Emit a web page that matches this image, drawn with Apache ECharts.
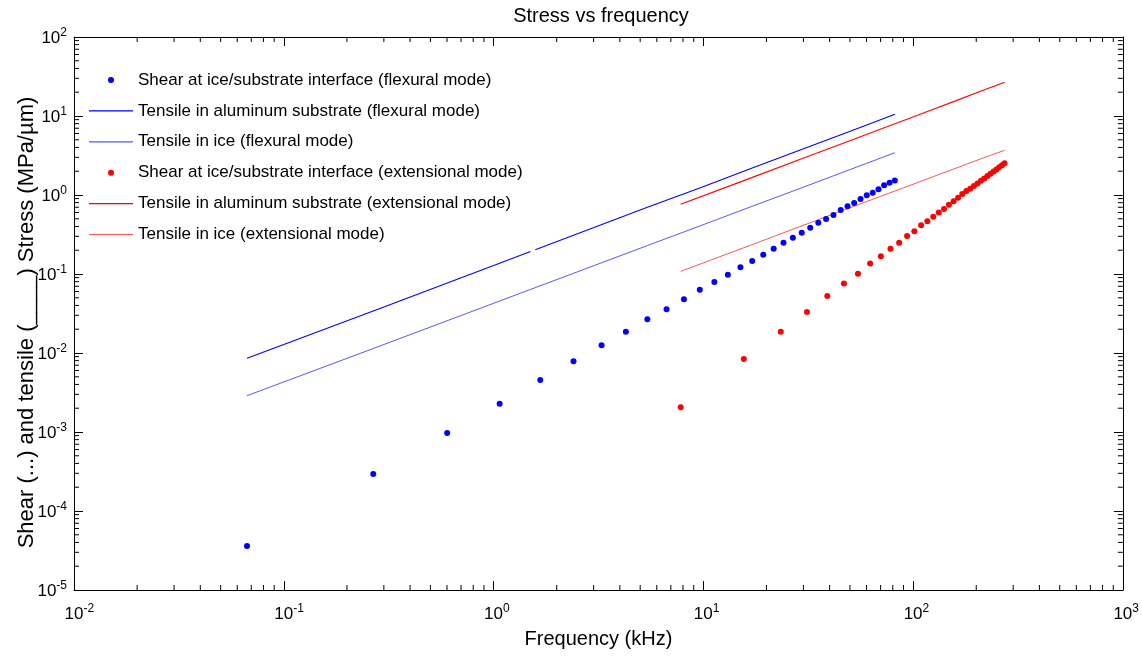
<!DOCTYPE html>
<html>
<head>
<meta charset="utf-8">
<script src="https://cdn.jsdelivr.net/npm/echarts@6/dist/echarts.min.js"></script>
<style>
html,body{margin:0;padding:0;background:#fff;}
#chart{width:1142px;height:658px;}
</style>
</head>
<body>
<div id="chart"></div>
<script>
// ---- data ----
const flexFreq = [0.0668,0.267,0.601,1.069,1.67,2.405,3.273,4.275,5.411,6.68,8.083,9.619,11.29,13.09,15.03,17.10,19.31,21.64,24.11,26.72,29.46,32.33,35.34,38.48,41.75,45.16,48.70,52.37,56.18,60.12,64.19,68.40,72.75,77.22,81.83];
const flexShear = [3.61e-5,2.94e-4,9.7e-4,2.28e-3,4.55e-3,7.85e-3,1.25e-2,1.86e-2,2.67e-2,3.57e-2,4.79e-2,6.33e-2,7.92e-2,0.098,0.1216,0.146,0.175,0.209,0.249,0.288,0.333,0.386,0.446,0.497,0.558,0.646,0.719,0.792,0.889,0.991,1.07,1.18,1.33,1.43,1.53];

// aluminium line has a small break near 1.5 kHz (null = gap)
const flexAlFreq = [0.0668,0.267,1.069,1.50,1.54,1.58,2.405,5.411,9.619,17.10,26.72,41.75,60.12,81.83];
const flexTensileAl = [0.0086,0.034,0.137,0.193,null,0.203,0.31,0.70,1.23,2.2,3.43,5.35,7.7,10.5];
const flexIceFreq = [0.0668,0.267,1.069,2.405,5.411,9.619,17.10,26.72,41.75,60.12,81.83];
const flexTensileIce = [0.00288,0.0114,0.0455,0.102,0.229,0.405,0.72,1.12,1.75,2.52,3.43];

const extFreq = [7.8,15.6,23.4,31.2,39,46.8,54.6,62.4,70.2,78,85.8,93.6,101.4,109.2,117,124.8,132.6,140.4,148.2,156,163.8,171.6,179.4,187.2,195,202.8,210.6,218.4,226.2,234,241.8,249.6,257.4,265.2,273];
const extShear = [2.06e-3,8.4e-3,1.86e-2,3.30e-2,5.27e-2,7.58e-2,0.101,0.136,0.168,0.208,0.249,0.303,0.347,0.413,0.466,0.531,0.600,0.665,0.755,0.832,0.922,1.03,1.12,1.20,1.30,1.40,1.51,1.62,1.74,1.86,1.98,2.11,2.24,2.38,2.52];

const extLineFreq = [7.8,15.6,31.2,46.8,70.2,93.6,124.8,156,195,234,273];
const extTensileAl = [0.762,1.52,3.04,4.55,6.85,9.1,12.2,15.2,19.1,22.9,26.7];
const extTensileIce = [0.108,0.215,0.43,0.645,0.965,1.28,1.71,2.13,2.66,3.18,3.68];

const seriesNames = [
  'Shear at ice/substrate interface (flexural mode)',
  'Tensile in aluminum substrate (flexural mode)',
  'Tensile in ice (flexural mode)',
  'Shear at ice/substrate interface (extensional mode)',
  'Tensile in aluminum substrate (extensional mode)',
  'Tensile in ice (extensional mode)'
];

const xMin = 0.01, xMax = 1000, yMin = 1e-5, yMax = 100;
const xMinorTicks = [];
[0.01,0.1,1,10,100].forEach(d => { [2,3,4,5,6,7,8,9].forEach(k => xMinorTicks.push(+(d*k).toPrecision(3))); });
const yMinorTicks = [];
[1e-5,1e-4,1e-3,1e-2,1e-1,1,10].forEach(d => { [2,3,4,5,6,7,8,9].forEach(k => yMinorTicks.push(+(d*k).toPrecision(3))); });

const zip = (a, b) => a.map((v, i) => [v, b[i] === null ? '-' : b[i]]);
const FONT = '"Liberation Sans", Arial, Helvetica, sans-serif';
const LINE_ICON = 'path://M0,0 L44,0 L44,1.2 L0,1.2 Z';

function expOf(v){ return Math.round(Math.log10(v)); }
const richLabel = {
  h: {fontSize: 12, color: 'rgba(0,0,0,0)', fontFamily: FONT, lineHeight: 13, padding: [0,0,9,0], verticalAlign: 'top'},
  b: {fontSize: 17, color: '#000', fontFamily: FONT, lineHeight: 20, verticalAlign: 'bottom'},
  s: {fontSize: 12, color: '#000', fontFamily: FONT, lineHeight: 13, padding: [0,0,9,0], verticalAlign: 'top'}
};

const chart = echarts.init(document.getElementById('chart'), null, {renderer: 'canvas'});

const axisCommon = {
  type: 'log', logBase: 10,
  axisLine: {show: true, onZero: false, lineStyle: {color: '#000', width: 1}},
  axisTick: {show: true, inside: true, length: 9, lineStyle: {color: '#000', width: 1}},
  splitLine: {show: false},
  minorTick: {show: false}
};

const option = {
  animation: false,
  backgroundColor: '#fff',
  title: {
    text: 'Stress vs frequency', left: 601, top: 6, textAlign: 'center', padding: 0,
    textStyle: {fontSize: 20, fontWeight: 'normal', color: '#000', fontFamily: FONT}
  },
  grid: {left: 74, right: 14, top: 37, bottom: 68, containLabel: false},
  legend: {
    orient: 'vertical', left: 89, top: 70, padding: 0,
    itemWidth: 44, itemHeight: 6, itemGap: 10.9,
    textStyle: {fontSize: 17, color: '#000', fontFamily: FONT, lineHeight: 20},
    data: [
      {name: seriesNames[0], icon: 'circle'},
      {name: seriesNames[1], icon: LINE_ICON},
      {name: seriesNames[2], icon: LINE_ICON},
      {name: seriesNames[3], icon: 'circle'},
      {name: seriesNames[4], icon: LINE_ICON},
      {name: seriesNames[5], icon: LINE_ICON}
    ],
    selectedMode: false
  },
  xAxis: [
    Object.assign({}, axisCommon, {
      min: xMin, max: xMax, position: 'bottom',
      name: 'Frequency (kHz)', nameLocation: 'middle', nameGap: 39, nameMoveOverlap: false,
      nameTextStyle: {fontSize: 20, color: '#000', fontFamily: FONT, verticalAlign: 'top'},
      axisLabel: {
        margin: 13, formatter: v => { const e = expOf(v); return '{h|' + e + '}{b|10}{s|' + e + '}'; },
        rich: richLabel
      }
    }),
    Object.assign({}, axisCommon, {
      min: xMin, max: xMax, position: 'top', axisLabel: {show: false}
    })
  ],
  yAxis: [
    Object.assign({}, axisCommon, {
      min: yMin, max: yMax, position: 'left',
      name: 'Shear (...) and tensile (____) Stress (MPa/µm)', nameLocation: 'middle', nameGap: 36, nameMoveOverlap: false,
      nameTextStyle: {fontSize: 22, color: '#000', fontFamily: FONT, padding: [0, 18, 0, 0]},
      axisLabel: {
        margin: 7, formatter: v => { const e = expOf(v); return '{b|10}{s|' + e + '}'; },
        rich: richLabel
      }
    }),
    Object.assign({}, axisCommon, {
      min: yMin, max: yMax, position: 'right', axisLabel: {show: false}
    })
  ],
  series: [
    {
      name: seriesNames[0], type: 'scatter', data: zip(flexFreq, flexShear),
      symbol: 'circle', symbolSize: 6, itemStyle: {color: '#0000ff', opacity: 1}, z: 3
    },
    {
      name: seriesNames[1], type: 'line', data: zip(flexAlFreq, flexTensileAl), connectNulls: false,
      symbol: 'none', lineStyle: {color: '#0000ff', width: 1.1}, itemStyle: {color: '#0000ff'}, z: 2
    },
    {
      name: seriesNames[2], type: 'line', data: zip(flexIceFreq, flexTensileIce),
      symbol: 'none', lineStyle: {color: '#5555ff', width: 1}, itemStyle: {color: '#5555ff'}, z: 2
    },
    {
      name: seriesNames[3], type: 'scatter', data: zip(extFreq, extShear),
      symbol: 'circle', symbolSize: 6, itemStyle: {color: '#ff0000', opacity: 1}, z: 3
    },
    {
      name: seriesNames[4], type: 'line', data: zip(extLineFreq, extTensileAl),
      symbol: 'none', lineStyle: {color: '#ff0000', width: 1.1}, itemStyle: {color: '#ff0000'}, z: 2
    },
    {
      name: seriesNames[5], type: 'line', data: zip(extLineFreq, extTensileIce),
      symbol: 'none', lineStyle: {color: '#ff5555', width: 1}, itemStyle: {color: '#ff5555'}, z: 2
    },
    {
      type: 'custom', silent: true, z: 5,
      data: xMinorTicks.map(v => [v, 1]),
      renderItem: (params, api) => {
        const v = api.value(0);
        const b = api.coord([v, yMin]);
        const t = api.coord([v, yMax]);
        const st = {stroke: '#000', lineWidth: 1};
        return {type: 'group', children: [
          {type: 'line', shape: {x1: b[0], y1: b[1], x2: b[0], y2: b[1] - 5}, style: st},
          {type: 'line', shape: {x1: t[0], y1: t[1], x2: t[0], y2: t[1] + 5}, style: st}
        ]};
      }
    },
    {
      type: 'custom', silent: true, z: 5,
      data: yMinorTicks.map(v => [1, v]),
      renderItem: (params, api) => {
        const v = api.value(1);
        const l = api.coord([xMin, v]);
        const r = api.coord([xMax, v]);
        const st = {stroke: '#000', lineWidth: 1};
        return {type: 'group', children: [
          {type: 'line', shape: {x1: l[0], y1: l[1], x2: l[0] + 5, y2: l[1]}, style: st},
          {type: 'line', shape: {x1: r[0], y1: r[1], x2: r[0] - 5, y2: r[1]}, style: st}
        ]};
      }
    }
  ]
};
chart.setOption(option);
</script>
</body>
</html>
